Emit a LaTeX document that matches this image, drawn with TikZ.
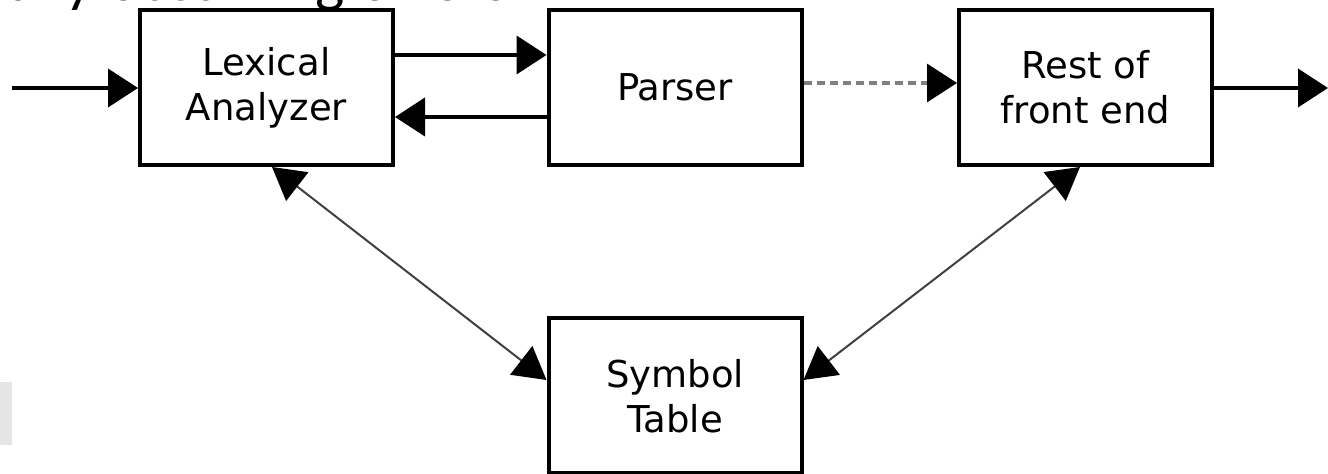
\documentclass[tikz,border=0pt]{standalone}
\usepackage{fontspec}
\setmainfont{DejaVu Sans}
\newfontfamily\headfont{Carlito}
\usetikzlibrary{arrows.meta}
\tikzset{
  blk/.style={draw=black, line width=2pt, minimum width=126.5pt, minimum height=77.5pt,
    inner sep=0pt, align=center, font=\fontsize{18.5pt}{22.5pt}\selectfont},
  thick arr/.style={line width=2pt, -{Triangle[length=15pt,width=19pt]}},
  thin arr/.style={line width=1pt, draw=black!75, {Triangle[length=16pt,width=18pt,fill=black,color=black]}-{Triangle[length=16pt,width=18pt,fill=black,color=black]}},
  dash arr/.style={line width=1.6pt, draw=black!50, dash pattern=on 4pt off 2.5pt,
    -{Triangle[length=15pt,width=19pt,fill=black,color=black]}}
}
\begin{document}
\begin{tikzpicture}[x=0.5pt,y=-0.5pt]
\useasboundingbox (0,0) rectangle (1328,474);
% partially visible heading
\node[anchor=base west, inner sep=0pt, font=\headfont\fontsize{31pt}{34pt}\selectfont] (head) at (7,1) {ally occurring errors};
% light gray fragment at left
\fill[black!10] (0,382) rectangle (12,445);
% boxes
\node[blk] (lex) at (266.5,87.5) {Lexical\\Analyzer};
\node[blk] (par) at (675,87.5) {Parser};
\node[blk] (rest) at (1085.5,87.5) {Rest of\\front end};
\node[blk] (sym) at (675,396) {Symbol\\Table};
\coordinate (in) at (12,88);
\coordinate (out) at (1328,88);
% connectors
\draw[thick arr] (in) -- (lex.west |- in);
\draw[thick arr] ([yshift=16.25pt]lex.east) -- ([yshift=16.25pt]par.west);
\draw[thick arr] ([yshift=-14.75pt]par.west) -- ([yshift=-14.75pt]lex.east);
\draw[dash arr] ([yshift=2.25pt]par.east) -- ([yshift=2.25pt]rest.west);
\draw[thick arr] (rest.east |- out) -- (out);
\draw[thin arr] ([xshift=2.75pt]lex.south) -- ([yshift=8pt]sym.west);
\draw[thin arr] ([xshift=-2.75pt]rest.south) -- ([yshift=8pt]sym.east);
\end{tikzpicture}
\end{document}
